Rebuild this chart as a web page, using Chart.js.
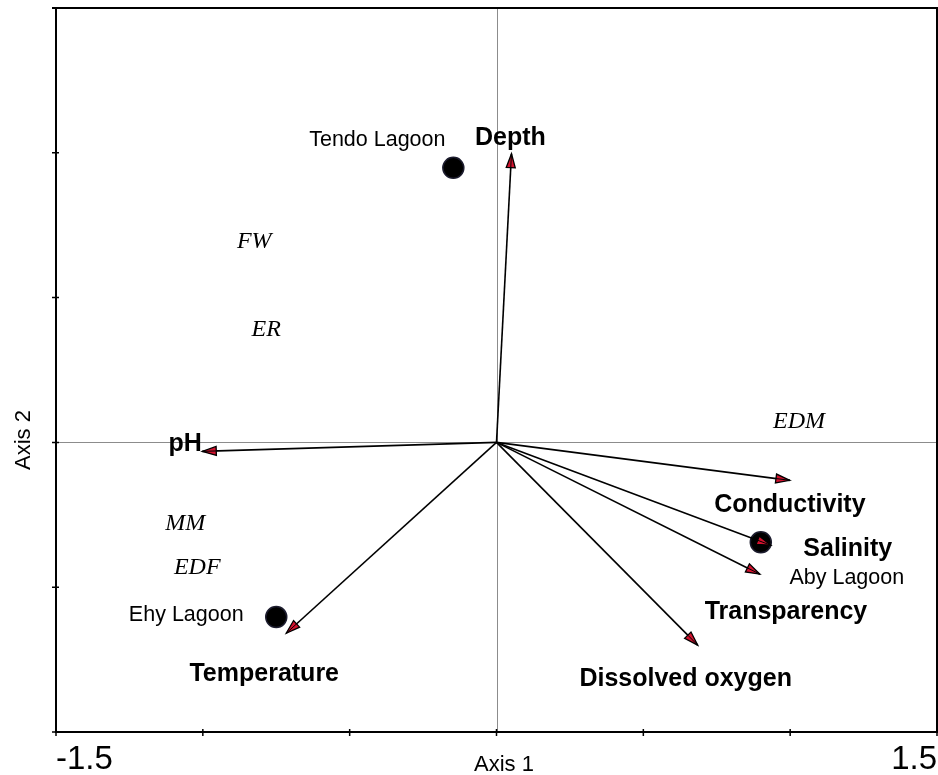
<!DOCTYPE html>
<html>
<head>
<meta charset="utf-8">
<script src="https://cdn.jsdelivr.net/npm/chart.js@4.4.1/dist/chart.umd.min.js"></script>
<style>
  body { margin: 0; background: #fff; }
  canvas { display: block; }
</style>
</head>
<body>
<canvas id="chart" width="938" height="775"></canvas>
<script>
// environmental variables (arrows from the origin)
const variables = ['Depth', 'pH', 'Temperature', 'Conductivity', 'Salinity', 'Transparency', 'Dissolved oxygen'];
const varAxis1 = [0.051, -1.002, -0.716, 0.999, 0.934, 0.897, 0.685];
const varAxis2 = [0.997, -0.031, -0.659, -0.131, -0.355, -0.455, -0.700];

// sites (filled circles)
const sites = ['Tendo Lagoon', 'Aby Lagoon', 'Ehy Lagoon'];
const siteAxis1 = [-0.147, 0.900, -0.750];
const siteAxis2 = [0.948, -0.345, -0.603];

// species (italic labels)
const species = ['FW', 'ER', 'EDM', 'MM', 'EDF'];
const spAxis1 = [-0.825, -0.784, 1.030, -1.060, -1.019];
const spAxis2 = [0.693, 0.390, 0.072, -0.279, -0.431];

// axis ticks
const xTicks = [-1.5, -1, -0.5, 0, 0.5, 1, 1.5];
const yTicks = [-1, -0.5, 0, 0.5, 1, 1.5];
const xTickLabels = ['-1.5', '1.5'];

// label offsets in pixels (layout only)
const varLabelOffsets = [[-1, -16], [-17, -7], [-22, 41], [0, 25], [77, 4], [26, 38], [-12, 34]];
const siteLabelOffsets = [[-76, -28], [86, 36], [-90, -2]];

const sans = '"Liberation Sans", Arial, sans-serif';
const serif = '"Liberation Serif", "Times New Roman", serif';

const arrowSets = variables.map((name, i) => ({
    type: 'line',
    label: name,
    data: [{x: 0, y: 0}, {x: varAxis1[i], y: varAxis2[i]}],
    borderColor: '#000',
    borderWidth: 1.6,
    pointRadius: 0,
    fill: false
}));

const siteSet = {
    type: 'scatter',
    label: 'Sites',
    data: sites.map((s, i) => ({x: siteAxis1[i], y: siteAxis2[i]})),
    backgroundColor: '#000',
    borderColor: '#1c1c2e',
    borderWidth: 1.5,
    pointRadius: 10.5
};

// draws frame, zero lines, ticks, arrowheads and all text
const biplotPlugin = {
    id: 'biplot',
    beforeDatasetsDraw(chart) {
        const {ctx, chartArea: a, scales: {x, y}} = chart;
        ctx.save();
        ctx.strokeStyle = '#8c8c8c';
        ctx.lineWidth = 1;
        const x0 = Math.round(x.getPixelForValue(0)) + 0.5;
        const y0 = Math.round(y.getPixelForValue(0)) + 0.5;
        ctx.beginPath();
        ctx.moveTo(x0, a.top); ctx.lineTo(x0, a.bottom);
        ctx.moveTo(a.left, y0); ctx.lineTo(a.right, y0);
        ctx.stroke();
        ctx.restore();
    },
    afterDatasetsDraw(chart) {
        const {ctx, chartArea: a, scales: {x, y}} = chart;
        ctx.save();

        // arrowheads
        variables.forEach((v, i) => {
            const px = x.getPixelForValue(varAxis1[i]);
            const py = y.getPixelForValue(varAxis2[i]);
            const ox = x.getPixelForValue(0);
            const oy = y.getPixelForValue(0);
            const ang = Math.atan2(py - oy, px - ox);
            const len = 14, hw = 4.5;
            const bx = px - len * Math.cos(ang), by = py - len * Math.sin(ang);
            ctx.beginPath();
            ctx.moveTo(px, py);
            ctx.lineTo(bx + hw * Math.sin(ang), by - hw * Math.cos(ang));
            ctx.lineTo(bx - hw * Math.sin(ang), by + hw * Math.cos(ang));
            ctx.closePath();
            ctx.fillStyle = '#d3122e';
            ctx.fill();
            ctx.strokeStyle = '#000';
            ctx.lineWidth = 1.3;
            ctx.stroke();
            ctx.beginPath();
            ctx.moveTo(bx, by); ctx.lineTo(px, py);
            ctx.lineWidth = 1;
            ctx.stroke();
        });

        // frame
        ctx.strokeStyle = '#000';
        ctx.lineWidth = 2;
        ctx.beginPath();
        ctx.moveTo(a.left - 4, a.top); ctx.lineTo(a.right, a.top);
        ctx.lineTo(a.right, a.bottom); ctx.lineTo(a.left, a.bottom);
        ctx.lineTo(a.left, a.top);
        ctx.stroke();

        // ticks
        ctx.lineWidth = 1.5;
        ctx.beginPath();
        xTicks.forEach(t => {
            const px = x.getPixelForValue(t);
            ctx.moveTo(px, a.bottom - 3); ctx.lineTo(px, a.bottom + 4);
        });
        yTicks.forEach(t => {
            const py = y.getPixelForValue(t);
            ctx.moveTo(a.left - 4, py); ctx.lineTo(a.left + 3, py);
        });
        ctx.stroke();

        ctx.fillStyle = '#000';
        ctx.textBaseline = 'middle';

        // tick labels and axis titles
        ctx.font = '33px ' + sans;
        ctx.textAlign = 'left';
        ctx.fillText(xTickLabels[0], a.left, 760);
        ctx.textAlign = 'right';
        ctx.fillText(xTickLabels[1], a.right, 760);
        ctx.font = '22px ' + sans;
        ctx.textAlign = 'center';
        ctx.fillText('Axis 1', 504, 765);
        ctx.save();
        ctx.translate(24, 440);
        ctx.rotate(-Math.PI / 2);
        ctx.fillText('Axis 2', 0, 0);
        ctx.restore();

        // variable labels
        ctx.font = 'bold 25px ' + sans;
        variables.forEach((v, i) => {
            const px = x.getPixelForValue(varAxis1[i]) + varLabelOffsets[i][0];
            const py = y.getPixelForValue(varAxis2[i]) + varLabelOffsets[i][1];
            ctx.fillText(v, px, py);
        });

        // site labels
        ctx.font = '21.5px ' + sans;
        sites.forEach((s, i) => {
            const px = x.getPixelForValue(siteAxis1[i]) + siteLabelOffsets[i][0];
            const py = y.getPixelForValue(siteAxis2[i]) + siteLabelOffsets[i][1];
            ctx.fillText(s, px, py);
        });

        // species labels
        ctx.font = 'italic 24px ' + serif;
        species.forEach((s, i) => {
            ctx.fillText(s, x.getPixelForValue(spAxis1[i]), y.getPixelForValue(spAxis2[i]));
        });

        ctx.restore();
    }
};

new Chart(document.querySelector('#chart').getContext('2d'), {
    data: {
        datasets: [...arrowSets, siteSet]
    },
    options: {
        responsive: false,
        animation: false,
        layout: {
            autoPadding: false,
            padding: {left: 56, right: 1, top: 8, bottom: 43}
        },
        plugins: {
            legend: {display: false},
            tooltip: {enabled: false}
        },
        scales: {
            x: {type: 'linear', min: -1.5, max: 1.5, display: false},
            y: {type: 'linear', min: -1, max: 1.5, display: false}
        }
    },
    plugins: [biplotPlugin]
});
</script>
</body>
</html>
